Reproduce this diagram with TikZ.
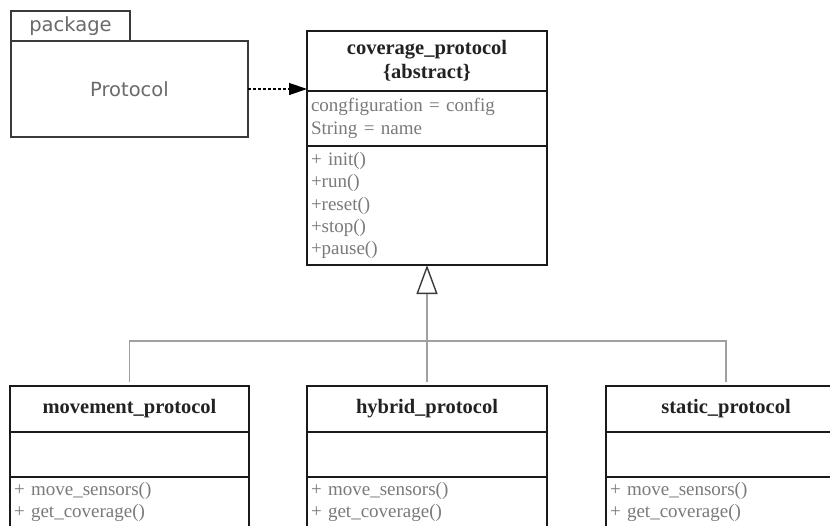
\documentclass[tikz,border=0pt]{standalone}
\usepackage{fontspec}
\setmainfont{Liberation Serif}
\newfontfamily\pkgfont{DejaVu Sans}
\usetikzlibrary{arrows.meta,calc}

\definecolor{boxline}{HTML}{1A1A1A}
\definecolor{headtext}{HTML}{222222}
\definecolor{bodytext}{HTML}{7A7A7A}
\definecolor{pkgline}{HTML}{3A3A3A}
\definecolor{pkgtext}{HTML}{6A6A6A}
\definecolor{genline}{HTML}{A0A0A0}
\definecolor{gentip}{HTML}{3A3A3A}

\tikzset{
  compart/.style={draw=boxline, line width=2pt, fill=white, minimum width=#1,
    inner xsep=0pt, inner ysep=0pt, outer sep=0pt},
  compart/.default=240pt,
  headtxt/.style={font=\fontsize{20.5}{23.5}\selectfont\bfseries, text=headtext, align=center},
  bodytxt/.style={font=\fontsize{19}{22.3}\selectfont, text=bodytext, align=left,
    text width=232pt},
  pkgbox/.style={draw=pkgline, line width=1.2pt, fill=white, inner sep=0pt,
    outer sep=0pt, font=\pkgfont\fontsize{19.5}{22}\selectfont, text=pkgtext},
  depend/.style={line width=1.3pt, dash pattern=on 3pt off 2pt,
    -{Triangle[length=18pt,width=12pt]}},
  genbar/.style={draw=genline, line width=1.5pt},
  genarrow/.style={draw=genline, line width=1.5pt,
    -{Triangle[open, length=29pt, width=21pt, color=gentip, line width=1.4pt]}},
}

\begin{document}
\begin{tikzpicture}[x=1pt, y=-1pt]
\useasboundingbox (0,0) rectangle (830,525);
\clip (0,0) rectangle (830,525);

% package "Protocol"
\node[pkgbox, minimum width=119pt, minimum height=30pt, anchor=north west]
  (pkgtab) at (11,11) {package};
\node[pkgbox, minimum width=237pt, minimum height=96pt, anchor=north west]
  (pkg) at (11,41) {Protocol};

% abstract class coverage_protocol
\node[compart, minimum height=60pt, anchor=north west, headtxt] (covh) at (307,31)
  {coverage\_protocol\\\{abstract\}};
\node[compart, minimum height=55pt, anchor=north, bodytxt] (cova) at (covh.south)
  {congfiguration = config\\String = name};
\node[compart, minimum height=119pt, anchor=north, bodytxt] (covm) at (cova.south)
  {+ init()\\+run()\\+reset()\\+stop()\\+pause()};

% concrete protocols
\node[compart=239pt, minimum height=46pt, anchor=north west, headtxt] (movh) at (10,386)
  {movement\_protocol};
\node[compart=239pt, minimum height=45pt, anchor=north] (mova) at (movh.south) {};
\node[compart=239pt, minimum height=50pt, anchor=north, bodytxt, text width=231pt] (movm) at (mova.south)
  {+ move\_sensors()\\+ get\_coverage()};

\node[compart, minimum height=46pt, anchor=north west, headtxt] (hybh) at (307,386)
  {hybrid\_protocol};
\node[compart, minimum height=45pt, anchor=north] (hyba) at (hybh.south) {};
\node[compart, minimum height=50pt, anchor=north, bodytxt] (hybm) at (hyba.south)
  {+ move\_sensors()\\+ get\_coverage()};

\node[compart, minimum height=46pt, anchor=north west, headtxt] (stah) at (606,386)
  {static\_protocol};
\node[compart, minimum height=45pt, anchor=north] (staa) at (stah.south) {};
\node[compart, minimum height=50pt, anchor=north, bodytxt] (stam) at (staa.south)
  {+ move\_sensors()\\+ get\_coverage()};

% dependency
\draw[depend] (pkg.east) -- (pkg.east -| covh.west);

% generalization tree
\coordinate (movtop) at ($(movh.north)+(0,-4)$);
\coordinate (hybtop) at ($(hybh.north)+(0,-4)$);
\coordinate (statop) at ($(stah.north)+(0,-4)$);
\coordinate (bar) at (427,341);
\draw[genbar] (movtop) |- (bar) -| (statop);
\draw[genarrow] (hybtop) -- (covm.south);
\end{tikzpicture}
\end{document}
